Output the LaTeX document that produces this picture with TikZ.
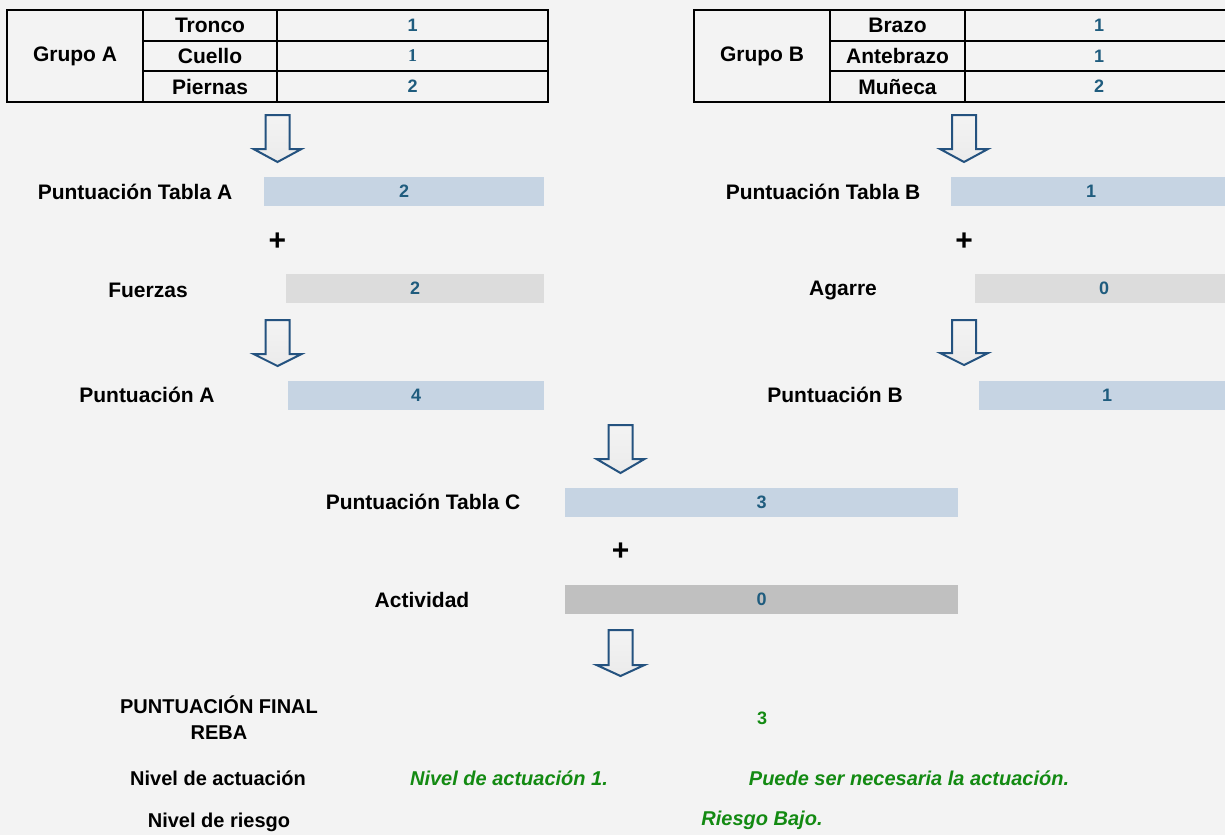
\documentclass[tikz,border=0pt]{standalone}
\usepackage{fontspec}
\setmainfont{Liberation Sans}
\newfontfamily\serifnum{Liberation Serif}
\definecolor{pagebg}{HTML}{F3F3F3}
\definecolor{valblue}{HTML}{1F5C7E}
\definecolor{okgreen}{HTML}{138A12}
\definecolor{barblue}{HTML}{C6D4E3}
\definecolor{bargray}{HTML}{DCDCDC}
\definecolor{bardark}{HTML}{C0C0C0}
\definecolor{arrowedge}{HTML}{24527F}
\definecolor{arrowfill}{HTML}{EBEBEB}

% block arrow pointing down: centre x, top y, neck y, tip y
\newcommand\downblock[4]{%
  \draw[blockarrow] (#1-12,#2) -- (#1+12,#2) -- (#1+12,#3) -- (#1+24,#3)
    -- (#1,#4) -- (#1-24,#3) -- (#1-12,#3) -- cycle;}

\begin{document}
\begin{tikzpicture}[x=1pt,y=-1pt,
  lbl/.style={font=\fontsize{21}{24}\selectfont\bfseries, inner sep=0pt},
  num/.style={font=\fontsize{18}{21}\selectfont\bfseries, text=valblue},
  cell/.style={draw=black, line width=2pt, inner sep=0pt, align=center,
    font=\fontsize{21}{24}\selectfont\bfseries},
  valcell/.style={cell, font=\fontsize{18}{21}\selectfont\bfseries, text=valblue},
  bar/.style={inner sep=0pt, minimum height=29pt, num},
  result/.style={font=\fontsize{20}{24}\selectfont\bfseries\itshape, text=okgreen, inner sep=0pt},
  plus/.style={font=\fontsize{30}{32}\selectfont\bfseries, inner sep=0pt},
  blockarrow/.style={draw=arrowedge, line width=2pt, line join=miter,
    top color=arrowfill!60!white, bottom color=arrowfill}]
\useasboundingbox (0,0) rectangle (1225,835);
\fill[pagebg] (0,0) rectangle (1225,835);

% ---- Grupo A table
\node[cell, minimum width=136pt, minimum height=92pt] (gA) at (75,56) {Grupo A};
\node[cell, minimum width=134pt, minimum height=30.67pt] (tronco) at (210,25.33) {Tronco};
\node[cell, minimum width=134pt, minimum height=30.67pt] (cuello) at (210,56) {Cuello};
\node[cell, minimum width=134pt, minimum height=30.67pt] (piernas) at (210,86.67) {Piernas};
\node[valcell, minimum width=271pt, minimum height=30.67pt] (troncov) at (412.5,25.33) {1};
\node[valcell, minimum width=271pt, minimum height=30.67pt] (cuellov) at (412.5,56) {\serifnum 1};
\node[valcell, minimum width=271pt, minimum height=30.67pt] (piernasv) at (412.5,86.67) {2};

% ---- Grupo B table
\node[cell, minimum width=136pt, minimum height=92pt] (gB) at (762,56) {Grupo B};
\node[cell, minimum width=135pt, minimum height=30.67pt] (brazo) at (897.5,25.33) {Brazo};
\node[cell, minimum width=135pt, minimum height=30.67pt] (antebrazo) at (897.5,56) {Antebrazo};
\node[cell, minimum width=135pt, minimum height=30.67pt] (muneca) at (897.5,86.67) {Muñeca};
\node[valcell, minimum width=268pt, minimum height=30.67pt] (brazov) at (1099,25.33) {1};
\node[valcell, minimum width=268pt, minimum height=30.67pt] (antebrazov) at (1099,56) {1};
\node[valcell, minimum width=268pt, minimum height=30.67pt] (munecav) at (1099,86.67) {2};

% ---- left column
\downblock{277.5}{115}{149}{162}
\node[lbl] (ltA) at (135,192) {Puntuación Tabla A};
\node[bar, fill=barblue, minimum width=280pt] (vtA) at (404,191.5) {2};
\node[plus] (plA) at (277.5,242) {+};
\node[lbl] (lfz) at (148,290) {Fuerzas};
\node[bar, fill=bargray, minimum width=258pt] (vfz) at (415,288.5) {2};
\downblock{277.5}{320}{354}{366}
\node[lbl] (lpA) at (147,395) {Puntuación A};
\node[bar, fill=barblue, minimum width=256pt] (vpA) at (416,395.5) {4};

% ---- right column
\downblock{964}{115}{149}{162}
\node[lbl] (ltB) at (823,192) {Puntuación Tabla B};
\node[bar, fill=barblue, minimum width=280pt] (vtB) at (1091,191.5) {1};
\node[plus] (plB) at (964,242) {+};
\node[lbl] (lag) at (843,290) {Agarre};
\node[bar, fill=bargray, minimum width=258pt] (vag) at (1104,288.5) {0};
\downblock{964}{320}{353}{365}
\node[lbl] (lpB) at (835,395) {Puntuación B};
\node[bar, fill=barblue, minimum width=256pt] (vpB) at (1107,395.5) {1};

% ---- centre column
\downblock{620.5}{425}{459}{473}
\node[lbl] (ltC) at (423,502) {Puntuación Tabla C};
\node[bar, fill=barblue, minimum width=393pt] (vtC) at (761.5,502) {3};
\node[plus] (plC) at (620.5,552) {+};
\node[lbl] (lact) at (422,600) {Actividad};
\node[bar, fill=bardark, minimum width=393pt] (vact) at (761.5,599) {0};
\downblock{620.5}{630}{665}{676}

% ---- final score
\node[lbl, align=center, font=\fontsize{20}{26}\selectfont\bfseries] (lfin) at (219,718) {PUNTUACIÓN FINAL\\REBA};
\node[num, text=okgreen, inner sep=0pt] (vfin) at (762,718) {3};
\node[lbl, font=\fontsize{20}{24}\selectfont\bfseries] (lniv) at (218,778) {Nivel de actuación};
\node[result] (vniv) at (509,778) {Nivel de actuación 1.};
\node[result] (vnivtxt) at (909,778) {Puede ser necesaria la actuación.};
\node[lbl, font=\fontsize{20}{24}\selectfont\bfseries] (lrisk) at (219,822) {Nivel de riesgo};
\node[result] (vrisk) at (762,820) {Riesgo Bajo.};
\end{tikzpicture}
\end{document}
